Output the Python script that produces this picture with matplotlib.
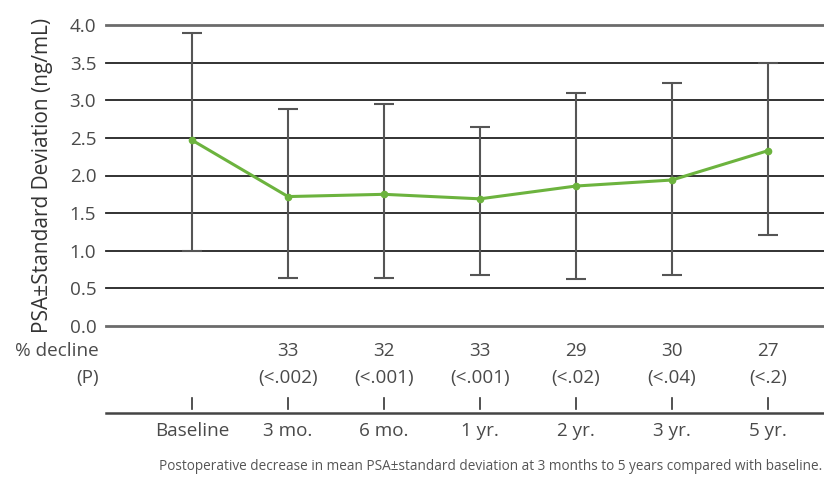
import matplotlib
matplotlib.use("Agg")
import matplotlib.pyplot as plt
from matplotlib.transforms import blended_transform_factory
from matplotlib.lines import Line2D

categories = ["Baseline", "3 mo.", "6 mo.", "1 yr.", "2 yr.", "3 yr.", "5 yr."]
mean_psa = [2.47, 1.72, 1.75, 1.69, 1.86, 1.94, 2.33]
upper = [3.90, 2.89, 2.95, 2.64, 3.09, 3.23, 3.49]
lower = [1.00, 0.64, 0.64, 0.68, 0.62, 0.68, 1.21]
pct_decline = ["", "33", "32", "33", "29", "30", "27"]
p_values = ["", "(<.002)", "(<.001)", "(<.001)", "(<.02)", "(<.04)", "(<.2)"]
yticks = [0.0, 0.5, 1.0, 1.5, 2.0, 2.5, 3.0, 3.5, 4.0]

plt.rcParams["font.family"] = ["Open Sans", "DejaVu Sans"]
TEXT = "#4a4a4a"
GREEN = "#6cb33e"
FS = 13.6

W, H = 824, 480
fig = plt.figure(figsize=(W / 100, H / 100), dpi=100)
ax = fig.add_axes([106 / W, 1 - 326 / H, 1 - 106 / W, (326 - 25) / H])

x = list(range(len(categories)))
ax.set_xlim(-(192 - 106) / 96, 6 + (824 - 768) / 96)
ax.set_ylim(0, 4)

for v in yticks:
    if v in (0.0, 4.0):
        ax.axhline(v, color="#6b6b6b", lw=2.0, zorder=1, clip_on=False)
    else:
        ax.axhline(v, color="#222222", lw=1.3, zorder=1, clip_on=False)

yerr = [[m - l for m, l in zip(mean_psa, lower)], [u - m for m, u in zip(mean_psa, upper)]]
ax.errorbar(x, mean_psa, yerr=yerr, fmt="none", ecolor="#555555", elinewidth=1.5,
            capsize=7, capthick=1.5, zorder=2)
ax.plot(x, mean_psa, color=GREEN, lw=2.2, marker="o", ms=4.5, zorder=3)

for s in ax.spines.values():
    s.set_visible(False)
ax.set_xticks([])
ax.set_yticks(yticks)
ax.set_yticklabels([f"{v:.1f}" for v in yticks], fontsize=FS, color=TEXT)
ax.tick_params(axis="y", length=0, pad=7)
ax.set_ylabel("PSA±Standard Deviation (ng/mL)", fontsize=15, color="#333333", labelpad=12)

tr = blended_transform_factory(ax.transData, fig.transFigure)
fy = lambda py: 1 - py / H

fig.text(99 / W, fy(351), "% decline", ha="right", va="center", fontsize=FS, color=TEXT)
fig.text(99 / W, fy(378), "(P)", ha="right", va="center", fontsize=FS, color=TEXT)

for i, cat in enumerate(categories):
    if pct_decline[i]:
        fig.text(i, fy(351), pct_decline[i], transform=tr, ha="center", va="center",
                 fontsize=FS, color=TEXT)
        fig.text(i, fy(378), p_values[i], transform=tr, ha="center", va="center",
                 fontsize=FS, color=TEXT)
    fig.add_artist(Line2D([i, i], [fy(398), fy(409)], transform=tr, color="#333333", lw=1.2))
    fig.text(i, fy(431), cat, transform=tr, ha="center", va="center", fontsize=FS, color=TEXT)

fig.add_artist(Line2D([106 / W, 1.0], [fy(413), fy(413)], transform=fig.transFigure,
                      color="#444444", lw=1.8))

fig.text(822 / W, fy(466), "Postoperative decrease in mean PSA±standard deviation at 3 months to 5 years compared with baseline.",
         ha="right", va="center", fontsize=9.8, color="#555555")

fig.savefig("out.png", dpi=100)
